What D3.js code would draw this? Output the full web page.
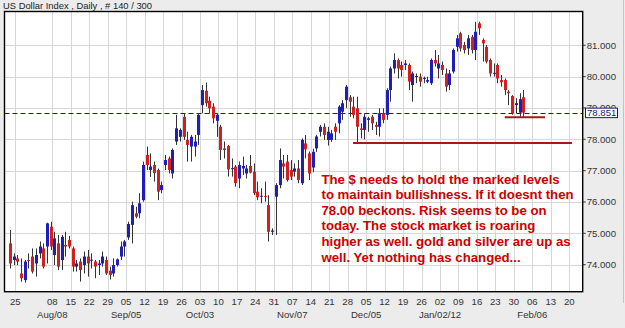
<!DOCTYPE html>
<html><head><meta charset="utf-8">
<script src="https://cdn.jsdelivr.net/npm/d3@7/dist/d3.min.js"></script>
<style>
html,body{margin:0;padding:0;background:#ececec;}
svg{display:block;}
</style></head>
<body>
<script>
const title = "US Dollar Index , Daily , # 140 / 300";
const opens = [74.68,74.15,74.20,73.72,73.51,74.15,74.26,74.04,74.36,74.52,74.58,75.21,74.31,74.68,74.15,74.63,74.79,74.52,73.94,74.10,73.99,74.26,74.15,74.10,73.99,74.04,74.15,73.81,73.72,73.99,74.26,74.58,74.87,75.27,75.64,75.64,76.06,77.50,77.02,77.18,77.02,76.38,77.18,77.39,76.91,77.93,78.08,78.72,77.98,77.77,77.77,78.14,79.09,79.55,79.23,79.04,78.59,78.40,77.71,77.79,77.07,77.13,76.75,77.07,76.91,77.15,76.97,76.33,76.19,76.19,75.90,75.05,76.17,76.54,77.23,77.29,77.02,76.97,77.07,76.60,77.87,77.55,77.10,77.71,78.24,78.40,77.98,77.98,78.40,78.51,78.88,79.25,79.34,79.04,78.99,78.35,78.30,78.62,78.72,78.46,78.40,78.83,78.78,79.57,80.26,80.53,80.37,80.37,80.37,79.73,80.00,80.00,79.94,79.84,79.79,80.53,80.26,80.37,80.10,79.73,80.16,80.95,81.38,81.01,80.90,81.27,80.85,81.70,81.17,80.95,80.53,80.10,80.37,79.89,79.89,79.52,79.38,79.09,78.85,79.34];
const highs = [75.11,74.36,74.31,74.20,74.15,74.36,74.52,74.52,74.74,74.68,75.34,75.37,75.05,74.95,74.95,75.05,74.92,74.58,74.15,74.20,74.42,74.47,74.36,74.15,74.15,74.42,74.26,73.94,74.20,74.20,74.74,74.79,75.37,76.01,75.85,76.28,77.29,77.77,77.55,77.29,77.07,76.65,77.50,77.45,77.71,78.78,78.35,78.83,78.24,78.14,78.14,78.83,79.73,79.81,79.36,79.15,78.83,78.46,77.93,77.82,77.39,77.18,77.29,77.45,77.18,77.50,77.23,76.65,76.44,76.65,76.22,75.16,76.60,77.71,77.50,77.50,77.34,77.23,77.34,78.03,78.14,77.61,77.70,78.14,78.46,78.51,78.40,78.30,78.51,79.09,79.25,79.73,79.41,79.36,79.36,78.51,78.83,78.72,78.78,78.56,78.99,78.99,79.63,80.32,80.74,80.58,80.48,80.53,80.42,80.16,80.10,80.10,80.00,80.00,80.58,80.85,80.69,80.48,80.26,80.21,80.90,81.33,81.43,81.11,81.33,81.33,81.75,81.75,81.22,81.01,80.58,80.42,80.42,80.05,79.94,79.57,79.41,79.31,79.47,79.57];
const lows = [73.88,73.99,73.99,73.46,73.43,73.88,73.72,73.62,74.20,73.88,74.04,74.47,73.99,73.83,73.83,74.26,74.52,73.78,73.78,73.46,73.72,73.62,73.88,73.57,73.67,73.94,73.67,73.53,73.62,73.94,74.15,74.26,74.79,74.68,75.48,75.48,76.01,77.02,76.80,76.65,76.06,76.28,77.02,76.91,76.75,77.82,77.93,77.98,77.29,77.29,77.45,77.82,78.83,79.04,78.83,78.51,78.08,77.34,77.39,76.81,76.81,76.49,76.44,76.86,76.75,76.91,76.22,76.06,75.96,76.01,74.74,74.95,74.95,76.44,76.75,76.65,76.70,76.81,76.60,76.54,77.39,76.70,76.95,77.60,78.09,77.98,77.80,77.92,77.98,78.19,78.62,79.00,78.72,78.67,77.90,78.03,78.00,78.24,78.30,78.14,78.09,78.51,78.62,79.20,80.10,79.94,80.00,80.21,79.57,79.20,79.79,79.68,79.79,79.79,79.73,80.32,79.94,80.05,79.52,79.57,80.10,80.80,80.80,80.74,80.69,80.74,80.53,81.33,80.48,80.42,80.00,80.00,79.79,79.68,79.41,79.09,78.78,78.83,78.72,78.72];
const closes = [74.04,74.26,74.10,73.57,74.10,74.13,73.78,74.31,74.58,73.94,75.32,74.58,74.84,73.94,74.89,74.58,74.58,73.94,74.04,73.83,74.26,74.04,74.16,73.94,74.04,74.26,73.72,73.67,73.99,74.17,74.58,74.74,75.30,75.90,75.53,75.96,77.18,77.18,77.13,76.92,76.33,76.54,77.34,77.02,77.66,78.35,78.30,78.08,77.82,78.08,77.93,78.78,79.57,79.15,78.99,78.67,78.78,77.66,77.66,77.04,77.08,76.60,77.18,77.15,77.07,76.94,76.28,76.15,76.20,76.17,75.05,75.09,76.54,77.34,77.13,76.70,76.81,77.07,76.70,77.98,77.68,76.91,77.60,78.09,78.40,78.14,78.24,78.19,78.24,79.04,79.15,79.68,79.20,78.78,78.40,78.30,78.72,78.67,78.51,78.40,78.83,78.62,79.57,80.26,80.53,80.26,80.21,80.42,79.84,80.10,80.02,79.84,79.96,79.89,80.53,80.42,80.42,80.21,79.68,80.10,80.85,81.22,80.90,80.85,81.22,80.85,81.43,81.54,81.06,80.48,80.10,80.12,79.94,79.82,79.57,79.47,78.83,79.15,79.28,78.851];

const priceTicks = [74,75,76,77,78,79,80,81];
const lastPrice = 78.851;
// weekly ticks: week number from Jul 25 (0) and label; week 1 (Aug 01) not shown
const weekIdx = [0,2,3,4,5,6,7,8,9,10,11,12,13,14,15,16,17,18,19,20,21,22,23,24,25,26,27,28,29,30];
const weekLabels = ["25","08","15","22","29","05","12","19","26","03","10","17","24","31","07","14","21","28","05","12","19","26","02","09","16","23","30","06","13","20"];
const monthWeeks = [2,6,10,15,19,23,28];
const monthLabels = ["Aug/08","Sep/05","Oct/03","Nov/07","Dec/05","Jan/02/12","Feb/06"];
// support lines: price, from bar, to bar
const supportPrice = [77.88, 78.70];
const supportFrom = [92.9, 134];
const supportTo = [152.2, 144.9];
const note = ["The $ needs to hold the marked levels","to maintain bullishness. If it doesnt then","78.00 beckons. Risk seems to be on","today. The stock market is roaring","higher as well. gold and silver are up as","well. Yet nothing has changed..."];

const W=625,H=328;
const L=4.5,R=582.7,T=11.5,B=291.7;
const svg=d3.select("body").append("svg").attr("width",W).attr("height",H);
svg.append("rect").attr("width",W).attr("height",H).attr("fill","#ececec");
svg.append("line").attr("x1",623.5).attr("x2",623.5).attr("y1",0).attr("y2",303).attr("stroke","#c4c4c4");

const x=d3.scaleLinear().domain([-1.49,155.1]).range([L,R]);
const y=d3.scaleLinear().domain([73.139,82.077]).range([B,T]);
const wk = k => 1.45 + 5*k;

svg.append("rect").attr("x",L).attr("y",T).attr("width",R-L).attr("height",B-T).attr("fill","#fff");

const g=svg.append("g");
// grid
g.selectAll(".vg").data(weekIdx).enter().append("line")
 .attr("x1",d=>Math.round(x(wk(d)))+0.5).attr("x2",d=>Math.round(x(wk(d)))+0.5)
 .attr("y1",T).attr("y2",B).attr("stroke","#d6d6d6");
g.selectAll(".hg").data(priceTicks).enter().append("line")
 .attr("y1",d=>Math.round(y(d))+0.5).attr("y2",d=>Math.round(y(d))+0.5)
 .attr("x1",L).attr("x2",R).attr("stroke","#d6d6d6");

// dashed last-price line
g.append("line").attr("x1",L).attr("x2",R).attr("y1",Math.round(y(lastPrice))+0.5).attr("y2",Math.round(y(lastPrice))+0.5)
 .attr("stroke","#1c1c6a").attr("stroke-width",1.2).attr("stroke-dasharray","5,3");

// candles
const bars=d3.range(closes.length).map(i=>({i,o:opens[i],h:highs[i],l:lows[i],c:closes[i]}));
const cg=g.selectAll(".c").data(bars).enter().append("g");
cg.append("line").attr("x1",d=>Math.round(x(d.i))+0.5).attr("x2",d=>Math.round(x(d.i))+0.5)
 .attr("y1",d=>y(d.h)).attr("y2",d=>y(d.l)).attr("stroke","#333").attr("stroke-width",1);
cg.append("rect").attr("x",d=>Math.round(x(d.i))-1).attr("width",3)
 .attr("y",d=>y(Math.max(d.o,d.c))).attr("height",d=>Math.max(1,Math.abs(y(d.o)-y(d.c))))
 .attr("fill",d=>d.c>=d.o?"#1e1eb8":"#d02020");

// support lines
g.selectAll(".sl").data(supportPrice).enter().append("line")
 .attr("x1",(d,i)=>x(supportFrom[i])).attr("x2",(d,i)=>x(supportTo[i]))
 .attr("y1",d=>y(d)).attr("y2",d=>y(d)).attr("stroke","#a81818").attr("stroke-width",2);

// note text
g.selectAll(".nt").data(note).enter().append("text")
 .attr("x",321.5).attr("y",(d,i)=>183.5+i*15.6)
 .attr("font-family","Liberation Sans, Arial, sans-serif").attr("font-weight","bold").attr("font-size",13.2)
 .attr("fill","#cc0000").text(d=>d);

// frame
svg.append("rect").attr("x",L).attr("y",T).attr("width",R-L).attr("height",B-T).attr("fill","none").attr("stroke","#000").attr("stroke-width",1.4);

// right axis
const ax=svg.append("g");
ax.selectAll(".t").data(priceTicks).enter().append("line")
 .attr("x1",R).attr("x2",R+3).attr("y1",d=>y(d)).attr("y2",d=>y(d)).attr("stroke","#333");
ax.selectAll(".tl").data(priceTicks).enter().append("text")
 .attr("x",R+4).attr("y",d=>y(d)+3.4).attr("font-family","Liberation Sans, Arial, sans-serif").attr("font-size",9.6)
 .attr("fill","#333").text(d=>d3.format(".3f")(d));
// last price box
const ly=y(lastPrice);
ax.append("rect").attr("x",585.5).attr("y",ly-4.5).attr("width",32).attr("height",9.5).attr("fill","#fff").attr("stroke","#1c1c6a");
ax.append("text").attr("x",587).attr("y",ly+3.4).attr("font-family","Liberation Sans, Arial, sans-serif").attr("font-size",9.6)
 .attr("fill","#1c1c6a").text(d3.format(".3f")(lastPrice));

// bottom axis
ax.selectAll(".wl").data(weekIdx).enter().append("text")
 .attr("x",d=>x(wk(d))).attr("y",305).attr("text-anchor","middle")
 .attr("font-family","Liberation Sans, Arial, sans-serif").attr("font-size",9.6).attr("fill","#333")
 .text((d,i)=>weekLabels[i]);
ax.selectAll(".ml").data(monthWeeks).enter().append("text")
 .attr("x",d=>x(wk(d))).attr("y",317.5).attr("text-anchor","middle")
 .attr("font-family","Liberation Sans, Arial, sans-serif").attr("font-size",9.6).attr("fill","#333")
 .text((d,i)=>monthLabels[i]);

// title
svg.append("text").attr("x",3).attr("y",8.8).attr("font-family","Liberation Sans, Arial, sans-serif").attr("font-size",9.4).attr("fill","#222").text(title);
</script>
</body></html>
